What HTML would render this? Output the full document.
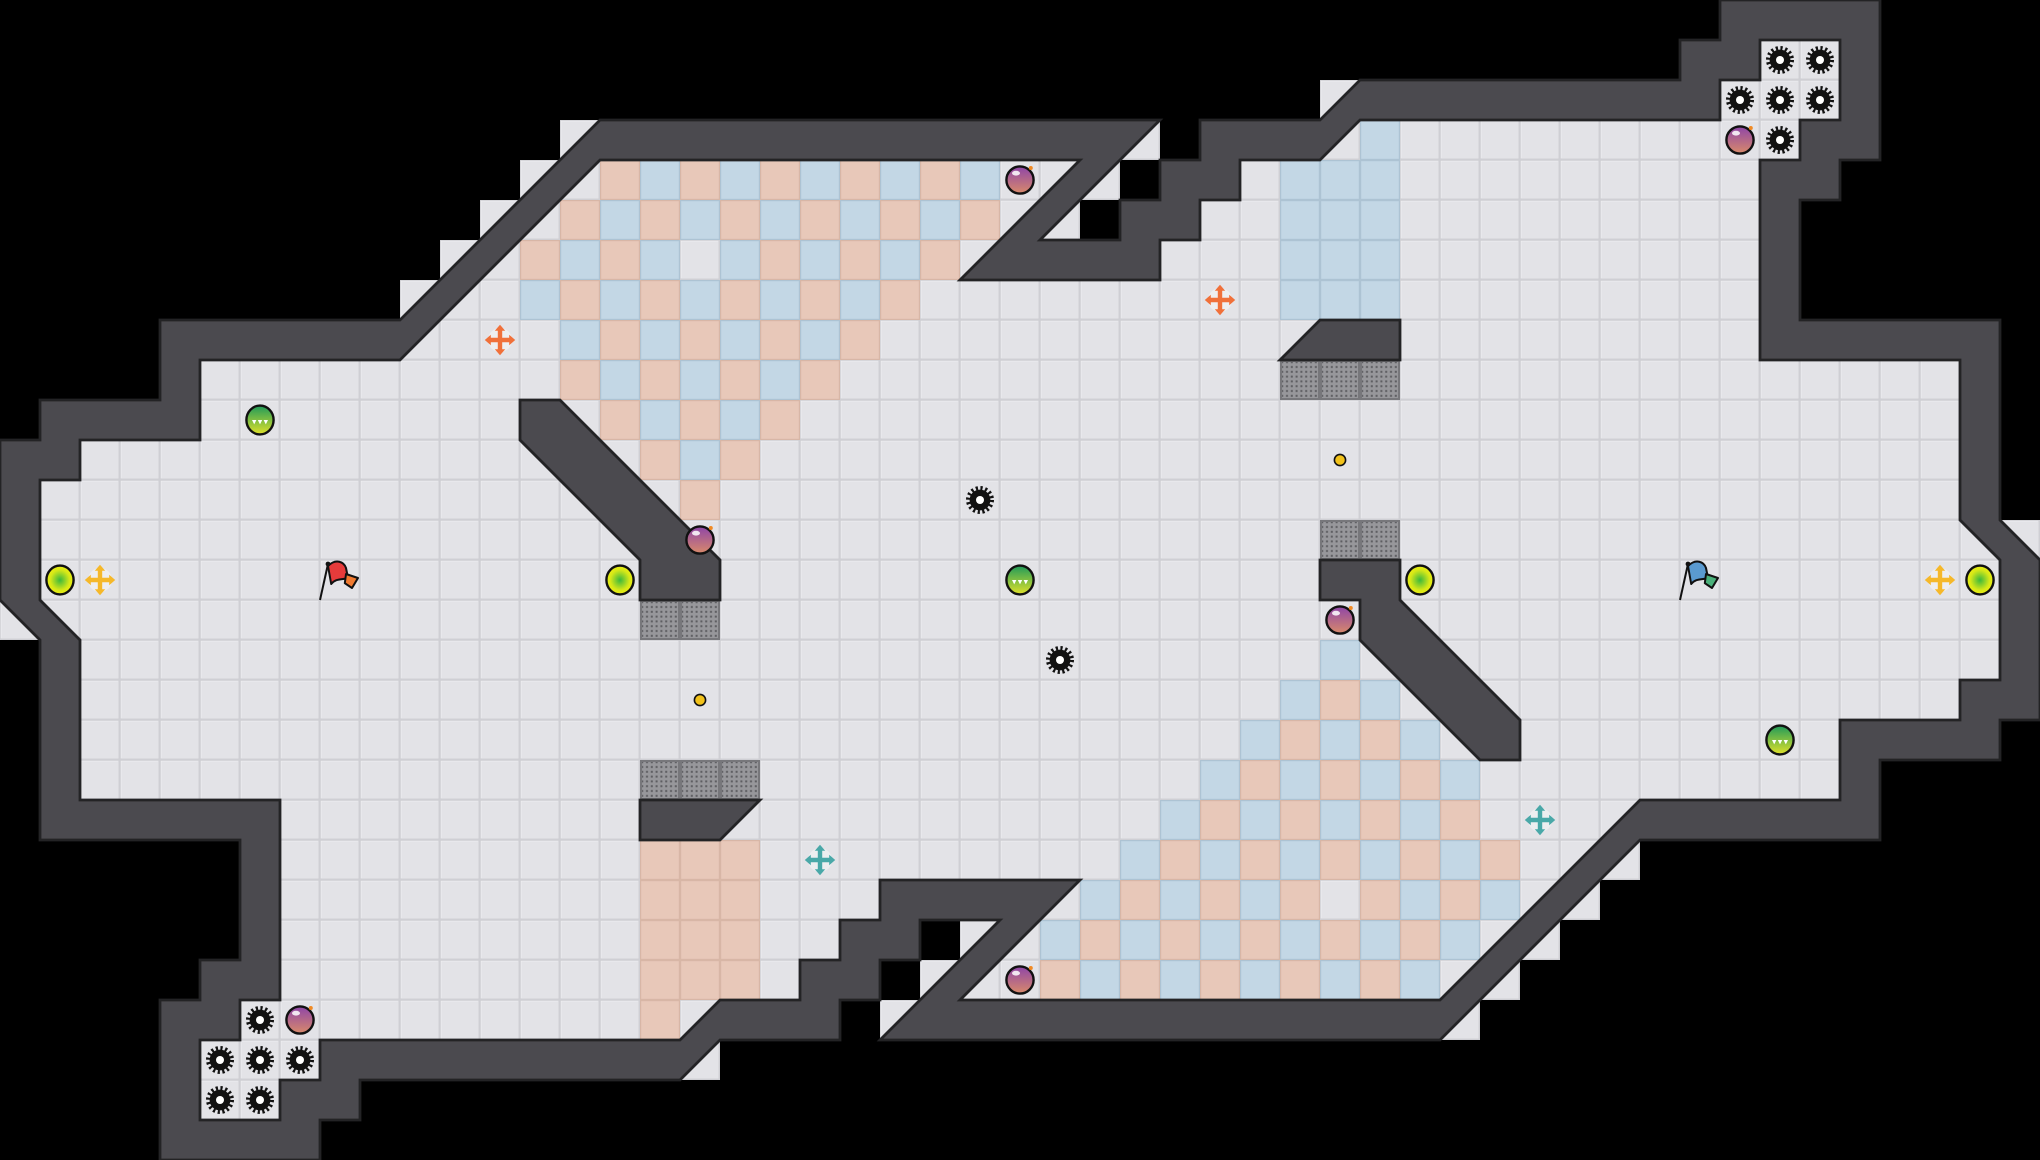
<!DOCTYPE html>
<html><head><meta charset="utf-8"><style>html,body{margin:0;padding:0;background:#000;}svg{display:block}</style></head>
<body>
<svg width="2040" height="1160" viewBox="0 0 51 29" xmlns="http://www.w3.org/2000/svg" xmlns:xlink="http://www.w3.org/1999/xlink">
<defs>
<pattern id="fl" width="1" height="1" patternUnits="userSpaceOnUse"><rect width="1" height="1" fill="#cfcfd4"/><rect x=".02" y=".02" width=".94" height=".94" fill="#f1f1f3"/><rect x=".035" y=".035" width=".925" height=".925" fill="#e3e3e7"/></pattern>
<pattern id="dots" width=".12" height=".12" patternUnits="userSpaceOnUse"><rect width=".12" height=".12" fill="#97979b"/><rect x=".03" y=".03" width=".05" height=".05" fill="#5e5e62"/></pattern>
<g id="P"><rect width="1" height="1" fill="#d8b6a6"/><rect x=".03" y=".03" width=".94" height=".94" fill="#e8c8b9"/></g>
<g id="B"><rect width="1" height="1" fill="#adc3d3"/><rect x=".03" y=".03" width=".94" height=".94" fill="#c3d7e5"/></g>
<g id="R"><rect width="1" height="1" fill="#77777b"/><rect x=".05" y=".05" width=".9" height=".9" fill="url(#dots)"/></g>
<radialGradient id="gy" cx=".5" cy=".5" r=".5"><stop offset="0" stop-color="#3cb83c"/><stop offset=".7" stop-color="#d6e818"/><stop offset="1" stop-color="#eef010"/></radialGradient>
<linearGradient id="gb" x1="0" y1="0" x2="0" y2="1"><stop offset="0" stop-color="#8e45a8"/><stop offset="1" stop-color="#d98a6a"/></linearGradient>
<linearGradient id="gg" x1="0" y1="0" x2="0" y2="1"><stop offset="0" stop-color="#1f9a5a"/><stop offset="1" stop-color="#e0e22a"/></linearGradient>
<g id="G"><circle r=".26" fill="#111"/><circle r=".3" fill="none" stroke="#111" stroke-width=".1" stroke-dasharray=".055 .063"/><circle r=".1" fill="#fff"/></g>
<g id="M"><circle r=".34" fill="url(#gb)" stroke="#111" stroke-width=".06"/><ellipse cx="-.1" cy="-.17" rx=".1" ry=".06" fill="#fff" opacity=".85"/><circle cx=".27" cy="-.3" r=".05" fill="#f08a24"/></g>
<g id="Y"><ellipse rx=".34" ry=".36" fill="url(#gy)" stroke="#111" stroke-width=".06"/></g>
<g id="E"><ellipse rx=".34" ry=".36" fill="url(#gg)" stroke="#111" stroke-width=".06"/><path d="M-.2 0h.11l-.055 .11z M-.055 0h.11l-.055 .11z M.09 0h.11l-.055 .11z" fill="#fff"/></g>
<g id="X"><circle r=".3" fill="#fff" opacity=".4"/><path d="M-.24 0H.24M0 -.24V.24" stroke="currentColor" stroke-width=".11"/><path d="M-.38 0l.15-.13v.26z M.38 0l-.15-.13v.26z M0 -.38l-.13 .15h.26z M0 .38l-.13-.15h.26z" fill="currentColor"/></g>
</defs>
<rect width="51" height="29" fill="#000"/>
<path fill="url(#fl)" d="M5,9 10,9 15,4 27,4 24,7 29,7 29,6 30,6 30,5 31,5 31,4 33,4 34,3 43,3 43,2 44,2 44,1 46,1 46,3 45,3 45,4 44,4 44,9 49,9 49,13 50,14 50,17 49,17 49,18 46,18 46,20 41,20 36,25 24,25 27,22 22,22 22,23 21,23 21,24 20,24 20,25 18,25 17,26 8,26 8,27 7,27 7,28 5,28 5,26 6,26 6,25 7,25 7,20 2,20 2,16 1,15 1,12 2,12 2,11 5,11Z"/>
<g fill="url(#fl)">
<rect x="10" y="7" width="1" height="1"/><rect x="11" y="6" width="1" height="1"/><rect x="12" y="5" width="1" height="1"/><rect x="13" y="4" width="1" height="1"/><rect x="14" y="3" width="1" height="1"/>
<rect x="28" y="3" width="1" height="1"/><rect x="27" y="4" width="1" height="1"/><rect x="26" y="5" width="1" height="1"/><rect x="33" y="2" width="1" height="1"/><rect x="50" y="13" width="1" height="1"/>
<rect x="40" y="21" width="1" height="1"/><rect x="39" y="22" width="1" height="1"/><rect x="38" y="23" width="1" height="1"/><rect x="37" y="24" width="1" height="1"/><rect x="36" y="25" width="1" height="1"/>
<rect x="24" y="23" width="1" height="1"/><rect x="23" y="24" width="1" height="1"/><rect x="22" y="25" width="1" height="1"/><rect x="17" y="26" width="1" height="1"/><rect x="0" y="15" width="1" height="1"/>
</g>
<use href="#P" x="15" y="4"/><use href="#B" x="16" y="4"/><use href="#P" x="17" y="4"/><use href="#B" x="18" y="4"/><use href="#P" x="19" y="4"/><use href="#B" x="20" y="4"/><use href="#P" x="21" y="4"/><use href="#B" x="22" y="4"/><use href="#P" x="23" y="4"/><use href="#B" x="24" y="4"/>
<use href="#P" x="14" y="5"/><use href="#B" x="15" y="5"/><use href="#P" x="16" y="5"/><use href="#B" x="17" y="5"/><use href="#P" x="18" y="5"/><use href="#B" x="19" y="5"/><use href="#P" x="20" y="5"/><use href="#B" x="21" y="5"/><use href="#P" x="22" y="5"/><use href="#B" x="23" y="5"/><use href="#P" x="24" y="5"/>
<use href="#P" x="13" y="6"/><use href="#B" x="14" y="6"/><use href="#P" x="15" y="6"/><use href="#B" x="16" y="6"/><use href="#B" x="18" y="6"/><use href="#P" x="19" y="6"/><use href="#B" x="20" y="6"/><use href="#P" x="21" y="6"/><use href="#B" x="22" y="6"/><use href="#P" x="23" y="6"/>
<use href="#B" x="13" y="7"/><use href="#P" x="14" y="7"/><use href="#B" x="15" y="7"/><use href="#P" x="16" y="7"/><use href="#B" x="17" y="7"/><use href="#P" x="18" y="7"/><use href="#B" x="19" y="7"/><use href="#P" x="20" y="7"/><use href="#B" x="21" y="7"/><use href="#P" x="22" y="7"/>
<use href="#B" x="14" y="8"/><use href="#P" x="15" y="8"/><use href="#B" x="16" y="8"/><use href="#P" x="17" y="8"/><use href="#B" x="18" y="8"/><use href="#P" x="19" y="8"/><use href="#B" x="20" y="8"/><use href="#P" x="21" y="8"/>
<use href="#P" x="14" y="9"/><use href="#B" x="15" y="9"/><use href="#P" x="16" y="9"/><use href="#B" x="17" y="9"/><use href="#P" x="18" y="9"/><use href="#B" x="19" y="9"/><use href="#P" x="20" y="9"/>
<use href="#P" x="15" y="10"/><use href="#B" x="16" y="10"/><use href="#P" x="17" y="10"/><use href="#B" x="18" y="10"/><use href="#P" x="19" y="10"/>
<use href="#P" x="16" y="11"/><use href="#B" x="17" y="11"/><use href="#P" x="18" y="11"/>
<use href="#P" x="17" y="12"/>
<use href="#B" x="34" y="3"/>
<use href="#B" x="32" y="4"/><use href="#B" x="33" y="4"/><use href="#B" x="34" y="4"/>
<use href="#B" x="32" y="5"/><use href="#B" x="33" y="5"/><use href="#B" x="34" y="5"/>
<use href="#B" x="32" y="6"/><use href="#B" x="33" y="6"/><use href="#B" x="34" y="6"/>
<use href="#B" x="32" y="7"/><use href="#B" x="33" y="7"/><use href="#B" x="34" y="7"/>
<use href="#B" x="33" y="16"/>
<use href="#B" x="32" y="17"/><use href="#P" x="33" y="17"/><use href="#B" x="34" y="17"/>
<use href="#B" x="31" y="18"/><use href="#P" x="32" y="18"/><use href="#B" x="33" y="18"/><use href="#P" x="34" y="18"/><use href="#B" x="35" y="18"/>
<use href="#B" x="30" y="19"/><use href="#P" x="31" y="19"/><use href="#B" x="32" y="19"/><use href="#P" x="33" y="19"/><use href="#B" x="34" y="19"/><use href="#P" x="35" y="19"/><use href="#B" x="36" y="19"/>
<use href="#B" x="29" y="20"/><use href="#P" x="30" y="20"/><use href="#B" x="31" y="20"/><use href="#P" x="32" y="20"/><use href="#B" x="33" y="20"/><use href="#P" x="34" y="20"/><use href="#B" x="35" y="20"/><use href="#P" x="36" y="20"/>
<use href="#B" x="28" y="21"/><use href="#P" x="29" y="21"/><use href="#B" x="30" y="21"/><use href="#P" x="31" y="21"/><use href="#B" x="32" y="21"/><use href="#P" x="33" y="21"/><use href="#B" x="34" y="21"/><use href="#P" x="35" y="21"/><use href="#B" x="36" y="21"/><use href="#P" x="37" y="21"/>
<use href="#B" x="27" y="22"/><use href="#P" x="28" y="22"/><use href="#B" x="29" y="22"/><use href="#P" x="30" y="22"/><use href="#B" x="31" y="22"/><use href="#P" x="32" y="22"/><use href="#P" x="34" y="22"/><use href="#B" x="35" y="22"/><use href="#P" x="36" y="22"/><use href="#B" x="37" y="22"/>
<use href="#B" x="26" y="23"/><use href="#P" x="27" y="23"/><use href="#B" x="28" y="23"/><use href="#P" x="29" y="23"/><use href="#B" x="30" y="23"/><use href="#P" x="31" y="23"/><use href="#B" x="32" y="23"/><use href="#P" x="33" y="23"/><use href="#B" x="34" y="23"/><use href="#P" x="35" y="23"/><use href="#B" x="36" y="23"/>
<use href="#P" x="26" y="24"/><use href="#B" x="27" y="24"/><use href="#P" x="28" y="24"/><use href="#B" x="29" y="24"/><use href="#P" x="30" y="24"/><use href="#B" x="31" y="24"/><use href="#P" x="32" y="24"/><use href="#B" x="33" y="24"/><use href="#P" x="34" y="24"/><use href="#B" x="35" y="24"/>
<use href="#P" x="16" y="21"/><use href="#P" x="17" y="21"/><use href="#P" x="18" y="21"/>
<use href="#P" x="16" y="22"/><use href="#P" x="17" y="22"/><use href="#P" x="18" y="22"/>
<use href="#P" x="16" y="23"/><use href="#P" x="17" y="23"/><use href="#P" x="18" y="23"/>
<use href="#P" x="16" y="24"/><use href="#P" x="17" y="24"/><use href="#P" x="18" y="24"/>
<use href="#P" x="16" y="25"/>
<use href="#R" x="16" y="15"/><use href="#R" x="17" y="15"/>
<use href="#R" x="16" y="19"/><use href="#R" x="17" y="19"/><use href="#R" x="18" y="19"/>
<use href="#R" x="32" y="9"/><use href="#R" x="33" y="9"/><use href="#R" x="34" y="9"/>
<use href="#R" x="33" y="13"/><use href="#R" x="34" y="13"/>
<g fill="#4b4a4f" stroke="#232325" stroke-width=".07" stroke-linejoin="miter">
<path fill-rule="evenodd" d="M4,8 10,8 15,3 29,3 26,6 28,6 28,5 29,5 29,4 30,4 30,3 33,3 34,2 42,2 42,1 43,1 43,0 47,0 47,4 46,4 46,5 45,5 45,8 50,8 50,13 51,14 51,18 50,18 50,19 47,19 47,21 41,21 36,26 22,26 25,23 23,23 23,24 22,24 22,25 21,25 21,26 18,26 17,27 9,27 9,28 8,28 8,29 4,29 4,25 5,25 5,24 6,24 6,21 1,21 1,16 0,15 0,11 1,11 1,10 4,10Z M5,9 10,9 15,4 27,4 24,7 29,7 29,6 30,6 30,5 31,5 31,4 33,4 34,3 43,3 43,2 44,2 44,1 46,1 46,3 45,3 45,4 44,4 44,9 49,9 49,13 50,14 50,17 49,17 49,18 46,18 46,20 41,20 36,25 24,25 27,22 22,22 22,23 21,23 21,24 20,24 20,25 18,25 17,26 8,26 8,27 7,27 7,28 5,28 5,26 6,26 6,25 7,25 7,20 2,20 2,16 1,15 1,12 2,12 2,11 5,11Z"/>
<path d="M13,10 14,10 18,14 18,15 16,15 16,14 13,11Z"/>
<path d="M16,20 19,20 18,21 16,21Z"/>
<path d="M33,8 35,8 35,9 32,9Z"/>
<path d="M33,14 35,14 35,15 38,18 38,19 37,19 34,16 34,15 33,15Z"/>
</g>
<use href="#G" x="44.5" y="1.5"/><use href="#G" x="45.5" y="1.5"/><use href="#G" x="43.5" y="2.5"/><use href="#G" x="44.5" y="2.5"/><use href="#G" x="45.5" y="2.5"/><use href="#G" x="44.5" y="3.5"/>
<use href="#G" x="6.5" y="25.5"/><use href="#G" x="5.5" y="26.5"/><use href="#G" x="6.5" y="26.5"/><use href="#G" x="7.5" y="26.5"/><use href="#G" x="5.5" y="27.5"/><use href="#G" x="6.5" y="27.5"/>
<use href="#G" x="24.5" y="12.5"/><use href="#G" x="26.5" y="16.5"/>
<use href="#M" x="25.5" y="4.5"/><use href="#M" x="17.5" y="13.5"/><use href="#M" x="33.5" y="15.5"/><use href="#M" x="25.5" y="24.5"/><use href="#M" x="7.5" y="25.5"/><use href="#M" x="43.5" y="3.5"/>
<use href="#Y" x="1.5" y="14.5"/><use href="#Y" x="15.5" y="14.5"/><use href="#Y" x="35.5" y="14.5"/><use href="#Y" x="49.5" y="14.5"/>
<use href="#E" x="6.5" y="10.5"/><use href="#E" x="25.5" y="14.5"/><use href="#E" x="44.5" y="18.5"/>
<use href="#X" x="2.5" y="14.5" style="color:#f5b82a"/><use href="#X" x="48.5" y="14.5" style="color:#f5b82a"/>
<use href="#X" x="12.5" y="8.5" style="color:#f0703a"/><use href="#X" x="30.5" y="7.5" style="color:#f0703a"/>
<use href="#X" x="20.5" y="21.5" style="color:#4aa8a8"/><use href="#X" x="38.5" y="20.5" style="color:#4aa8a8"/>
<circle cx="17.5" cy="17.5" r=".14" fill="#f2c21a" stroke="#111" stroke-width=".04"/>
<circle cx="33.5" cy="11.5" r=".14" fill="#f2c21a" stroke="#111" stroke-width=".04"/>
<g stroke="#111" stroke-width=".05" stroke-linejoin="round">
<path d="M8.0 15.0 8.2 14.1" fill="none"/>
<path d="M8.2 14.15 C8.4 13.95 8.6 14.05 8.65 14.2 L8.7 14.45 C8.55 14.5 8.4 14.45 8.28 14.6Z" fill="#e63b3b"/>
<path d="M8.65 14.35 L8.95 14.45 L8.8 14.7 L8.62 14.58Z" fill="#f07a30"/>
<path d="M42.0 15.0 42.2 14.1" fill="none"/>
<path d="M42.2 14.15 C42.4 13.95 42.6 14.05 42.65 14.2 L42.7 14.45 C42.55 14.5 42.4 14.45 42.28 14.6Z" fill="#5a9ad0"/>
<path d="M42.65 14.35 L42.95 14.45 L42.8 14.7 L42.62 14.58Z" fill="#4ab07a"/>
</g>
<circle cx="8.2" cy="14.1" r=".06" fill="#111"/><circle cx="42.2" cy="14.1" r=".06" fill="#111"/>
</svg>
</body></html>
